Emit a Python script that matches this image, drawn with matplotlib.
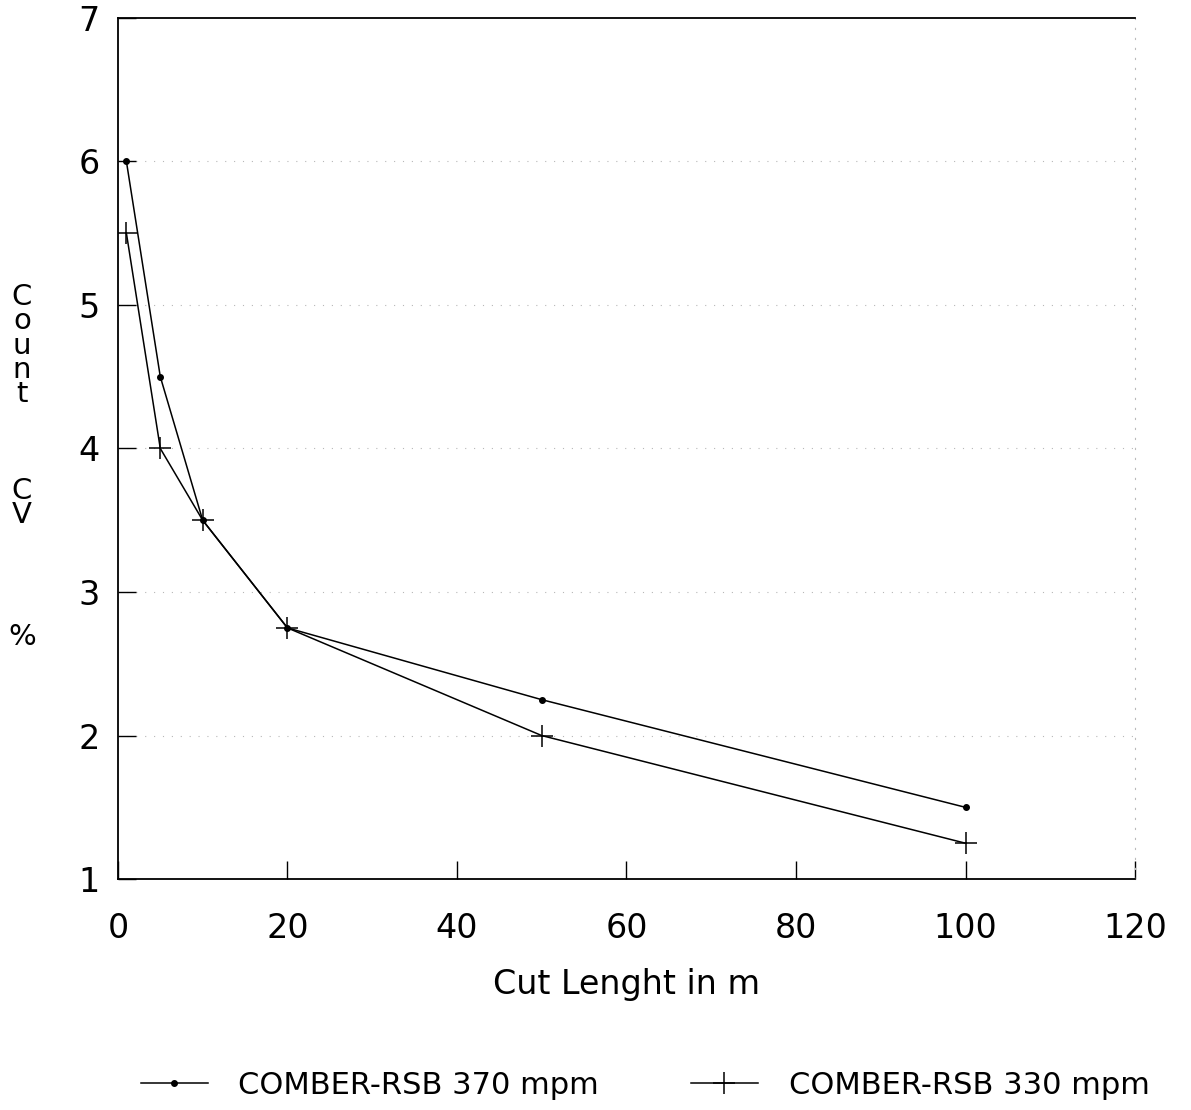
import matplotlib
matplotlib.use('Agg')
import matplotlib.pyplot as plt

# cut lengths (m) and count CV% for the two comber settings
cut_length = [1, 5, 10, 20, 50, 100]
cv_370 = [6.0, 4.5, 3.5, 2.75, 2.25, 1.5]
cv_330 = [5.5, 4.0, 3.5, 2.75, 2.0, 1.25]

x_ticks = [0, 20, 40, 60, 80, 100, 120]
y_ticks = [1, 2, 3, 4, 5, 6, 7]

plt.rcParams['font.family'] = ['DejaVu Sans']

fig = plt.figure(figsize=(11.91, 11.10), dpi=100)
ax = fig.add_axes([0.099, 0.208, 0.854, 0.776])

# faint dotted grid
for y in y_ticks[1:-1]:
    ax.axhline(y, color='#b8b8b8', lw=0.8, ls=(0, (1, 7)), zorder=0)

ax.plot(cut_length, cv_370, color='black', lw=1.1, marker='o', markersize=4,
        label='COMBER-RSB 370 mpm')
ax.plot(cut_length, cv_330, color='black', lw=1.1, marker='+', markersize=16,
        markeredgewidth=1.1, label='COMBER-RSB 330 mpm')

ax.set_xlim(0, 120)
ax.set_ylim(1, 7)
ax.set_xticks(x_ticks)
ax.set_yticks(y_ticks)
ax.tick_params(axis='both', direction='in', length=13, width=1.0,
               labelsize=24)
ax.tick_params(axis='x', pad=24)
ax.tick_params(axis='y', pad=13)

ax.spines['right'].set_color('#bbbbbb')
ax.spines['right'].set_linestyle((0, (1, 8)))
for side in ['top', 'left', 'bottom']:
    ax.spines[side].set_linewidth(1.3)

ax.set_xlabel('Cut Lenght in m', fontsize=24, labelpad=16)

# stacked vertical y title
fig.text(0.0185, 0.745, 'C\no\nu\nn\nt\n\n\n\nC\nV\n\n\n\n\n%',
         fontsize=21, ha='center', va='top', linespacing=0.83)

fig.legend(loc='center', bbox_to_anchor=(0.5416, 0.022), ncol=2,
           frameon=False, fontsize=22, handlelength=2.2, columnspacing=3.0,
           handletextpad=1.0)

fig.savefig('out.png', dpi=100, facecolor='white')
